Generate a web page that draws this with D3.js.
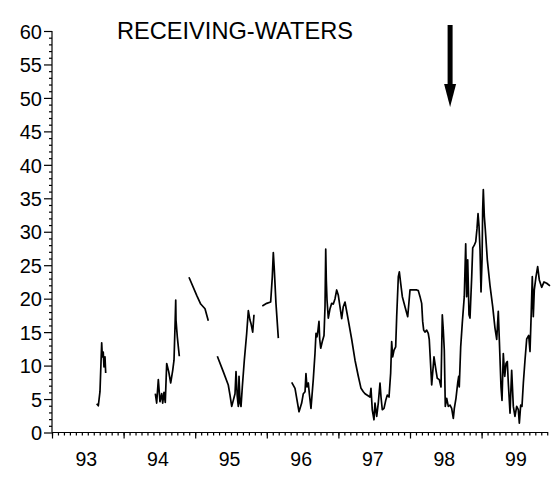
<!DOCTYPE html>
<html>
<head>
<meta charset="utf-8">
<script src="https://cdn.jsdelivr.net/npm/d3@7"></script>
<style>
  body { margin: 0; background: #fff; }
  svg { display: block; }
  text { font-family: "Liberation Sans", Arial, sans-serif; fill: #000; }
</style>
</head>
<body>
<svg id="chart" width="554" height="477"></svg>
<script>
// decimal year, value — the series has gaps, so one array per unbroken piece
var seg93 = [[1993.624,4.3],[1993.647,4.0],[1993.670,6.1],[1993.694,13.4],[1993.703,11.3],[1993.716,12.0],[1993.726,9.8],[1993.740,11.3],[1993.750,8.9]];

var seg94a = [[1994.443,5.8],[1994.462,4.4],[1994.485,7.9],[1994.508,4.6],[1994.532,5.8],[1994.546,4.4],[1994.564,6.0],[1994.582,4.5],[1994.602,10.3],[1994.630,9.1],[1994.658,7.4],[1994.686,9.3],[1994.704,10.8],[1994.718,15.8],[1994.728,19.8],[1994.732,16.8],[1994.750,14.3],[1994.778,11.4]];

var seg94b = [[1994.913,23.2],[1995.021,20.5],[1995.077,19.2],[1995.137,18.5],[1995.183,16.7]];

var seg95a = [[1995.309,11.4],[1995.392,9.1],[1995.462,7.1],[1995.486,5.6],[1995.510,3.9],[1995.532,4.8],[1995.556,5.8],[1995.570,9.1],[1995.588,5.3],[1995.602,3.9],[1995.612,8.4],[1995.626,4.4],[1995.640,3.9],[1995.658,6.8],[1995.686,10.8],[1995.719,14.8],[1995.742,18.2],[1995.765,16.8],[1995.779,16.3],[1995.803,15.0],[1995.821,17.6]];

var seg95b = [[1995.937,18.9],[1995.999,19.3],[1996.054,19.5],[1996.077,23.3],[1996.091,26.9],[1996.105,24.3],[1996.128,19.3],[1996.161,14.1]];

var seg96on = [[1996.348,7.5],[1996.394,6.6],[1996.450,3.1],[1996.487,4.4],[1996.510,5.8],[1996.534,6.1],[1996.547,8.8],[1996.561,6.8],[1996.580,7.4],[1996.594,5.8],[1996.617,3.6],[1996.649,7.9],[1996.673,11.8],[1996.687,14.8],[1996.701,14.3],[1996.715,15.3],[1996.729,16.6],[1996.739,13.9],[1996.753,12.6],[1996.775,13.6],[1996.799,14.5],[1996.813,18.8],[1996.823,27.4],[1996.831,22.8],[1996.841,19.8],[1996.859,17.1],[1996.883,18.5],[1996.906,19.3],[1996.929,19.2],[1996.953,20.0],[1996.976,21.3],[1996.999,20.5],[1997.022,18.8],[1997.046,17.0],[1997.068,18.8],[1997.092,19.5],[1997.138,16.8],[1997.186,13.9],[1997.232,10.8],[1997.278,8.4],[1997.316,6.6],[1997.348,6.1],
  [1997.372,5.8],[1997.441,5.3],[1997.455,6.6],[1997.473,3.4],[1997.497,1.9],[1997.511,4.4],[1997.535,2.4],[1997.557,4.4],[1997.581,7.4],[1997.595,5.3],[1997.613,3.4],[1997.637,3.6],[1997.661,4.8],[1997.683,5.6],[1997.707,5.3],[1997.730,8.9],[1997.744,13.6],[1997.758,11.3],[1997.777,12.3],[1997.800,12.8],[1997.814,17.3],[1997.837,23.3],[1997.851,24.0],[1997.870,22.3],[1997.893,20.3],[1997.930,18.8],[1997.968,17.3],[1998.000,21.3],[1998.046,21.3],[1998.094,21.3],[1998.116,21.2],[1998.140,20.3],[1998.163,19.3],[1998.177,16.6],[1998.191,15.3],[1998.209,15.0],[1998.233,15.3],[1998.255,14.8],[1998.269,13.9],
  [1998.303,7.1],[1998.335,11.3],[1998.363,9.3],[1998.381,8.1],[1998.409,7.9],[1998.433,6.8],[1998.451,17.6],[1998.465,15.3],[1998.479,12.3],[1998.493,3.9],[1998.513,5.1],[1998.535,3.9],[1998.559,4.1],[1998.582,3.6],[1998.605,2.1],[1998.619,3.6],[1998.642,5.1],[1998.666,7.4],[1998.680,8.4],[1998.688,6.8],[1998.708,12.8],[1998.730,16.3],[1998.758,20.3],[1998.778,28.2],[1998.792,20.3],[1998.806,25.8],[1998.824,17.6],[1998.838,17.1],[1998.862,23.3],[1998.876,27.6],[1998.898,28.0],[1998.918,28.5],[1998.936,30.5],[1998.950,32.7],[1998.964,30.8],[1998.978,27.3],[1998.992,21.0],[1999.006,25.8],[1999.015,33.2],[1999.024,36.3],[1999.038,32.3],[1999.052,30.3],[1999.080,25.8],[1999.117,22.0],
  [1999.155,18.8],[1999.187,15.6],[1999.211,13.9],[1999.233,18.1],[1999.247,14.0],[1999.271,6.8],[1999.285,4.8],[1999.303,11.8],[1999.323,8.4],[1999.341,10.3],[1999.359,10.6],[1999.373,7.4],[1999.397,2.9],[1999.420,9.3],[1999.443,3.9],[1999.466,2.4],[1999.490,3.9],[1999.513,3.4],[1999.527,1.4],[1999.546,4.1],[1999.564,3.9],[1999.583,7.4],[1999.606,10.8],[1999.630,14.0],[1999.658,14.5],[1999.676,12.1],[1999.694,18.1],[1999.708,23.3],[1999.722,17.3],[1999.736,21.3],[1999.760,23.3],[1999.783,24.8],[1999.806,22.8],[1999.839,21.7],[1999.872,22.5],[1999.909,22.3],[1999.955,21.9]];

var segments = [seg93, seg94a, seg94b, seg95a, seg95b, seg96on];

var years = [1993, 1994, 1995, 1996, 1997, 1998, 1999];
var yearLabels = ["93", "94", "95", "96", "97", "98", "99"];
var yMajor = [0, 5, 10, 15, 20, 25, 30, 35, 40, 45, 50, 55, 60];
var title = "RECEIVING-WATERS";
var arrowAt = 1998.56;

var svg = d3.select("#chart");

var x = d3.scaleLinear().domain([1993, 2000]).range([52, 553.2]);
var y = d3.scaleLinear().domain([0, 60]).range([432.5, 31]);
var xEnd = 1999.93;

// y axis
var yMinor = d3.range(0, 61, 1).filter(function (v) { return v % 5 !== 0; });
svg.append("g")
    .attr("transform", "translate(52,0)")
    .call(d3.axisLeft(y).tickValues(yMinor).tickSize(3).tickFormat(""))
    .call(function (g) { g.select(".domain").remove(); });
var yAx = svg.append("g")
    .attr("transform", "translate(52,0)")
    .call(d3.axisLeft(y).tickValues(yMajor).tickSize(8).tickPadding(2));
yAx.select(".domain").attr("d", "M0," + y(60) + "V" + y(0));
yAx.selectAll("text")
    .style("font-size", "20px")
    .style("font-family", "'Liberation Sans', Arial, sans-serif")
    .attr("dy", "0.36em");

// x axis: monthly minor ticks, yearly major ticks
var months = d3.range(0, 84).map(function (m) { return 1993 + m / 12; })
    .filter(function (t) { return t <= xEnd; });
svg.append("g")
    .attr("transform", "translate(0," + y(0) + ")")
    .call(d3.axisBottom(x).tickValues(months).tickSize(3).tickFormat(""))
    .call(function (g) { g.select(".domain").remove(); });
var xAx = svg.append("g")
    .attr("transform", "translate(0," + y(0) + ")")
    .call(d3.axisBottom(x).tickValues(years).tickSize(6).tickFormat(""));
xAx.select(".domain").attr("d", "M" + x(1993) + ",0H" + x(xEnd));
svg.selectAll(".tick line, .domain").attr("stroke", "#000").attr("stroke-width", 1.2);

svg.append("g").selectAll("text")
    .data(years)
    .enter().append("text")
    .attr("x", function (d) { return x(d + 0.48); })
    .attr("y", y(0) + 33)
    .attr("text-anchor", "middle")
    .style("font-size", "19.5px")
    .text(function (d, i) { return yearLabels[i]; });

// series
var line = d3.line()
    .x(function (d) { return x(d[0]); })
    .y(function (d) { return y(d[1]); });

svg.append("g").selectAll("path")
    .data(segments)
    .enter().append("path")
    .attr("d", line)
    .attr("fill", "none")
    .attr("stroke", "#000")
    .attr("stroke-width", 1.7)
    .attr("stroke-linejoin", "round");

// title
svg.append("text")
    .attr("x", 117)
    .attr("y", 38.5)
    .style("font-size", "23.6px")
    .text(title);

// arrow
var ax = x(arrowAt);
svg.append("rect")
    .attr("x", ax - 2.5).attr("y", 25)
    .attr("width", 5).attr("height", 62)
    .attr("fill", "#000");
svg.append("path")
    .attr("d", "M" + (ax - 6) + ",84L" + (ax + 6) + ",84L" + ax + ",107Z")
    .attr("fill", "#000");
</script>
</body>
</html>
